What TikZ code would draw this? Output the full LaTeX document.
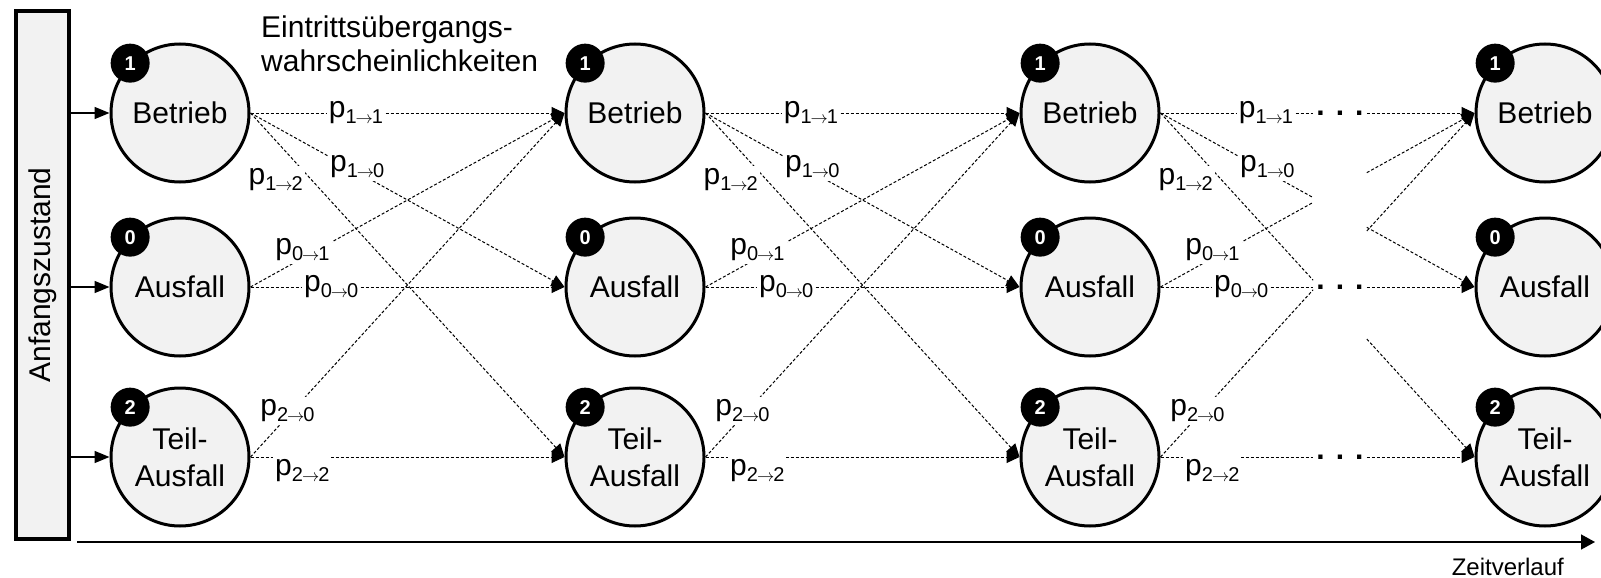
\documentclass[tikz,border=0pt]{standalone}
\usepackage{fontspec}
\setmainfont{Liberation Sans}
\usetikzlibrary{automata,arrows.meta,calc}

\definecolor{zustgrau}{HTML}{F2F2F2}
\newcommand{\pueb}[2]{p\raisebox{-6pt}{\fontsize{20}{20}\selectfont #1\hspace{-1pt}{\fontsize{17}{17}\selectfont$\rightarrow$}\hspace{-1pt}#2}}
% von/nach/Index/Index/pos/xshift/yshift
\newcommand{\uebergaenge}{b/b/1/1/.336/0/0, b/a/1/0/.34/0/5, b/t/1/2/.16/-25/-12, a/b/0/1/.21/-14/0, a/a/0/0/.257/0/0, t/b/2/0/.156/-12/-8, t/t/2/2/.165/0/-14}

\begin{document}
\begin{tikzpicture}[x=1pt, y=-1pt,
    every state/.style={draw, line width=3pt, fill=zustgrau, minimum size=138pt, inner sep=0pt, align=center, font=\fontsize{30}{37}\selectfont},
    badge/.style={circle, fill=black, text=white, minimum size=39pt, inner sep=0pt, font=\fontsize{20}{20}\selectfont\bfseries},
    start/.style={draw, line width=4pt, fill=zustgrau, rotate=90, minimum width=528pt, minimum height=53pt, font=\fontsize{30}{30}\selectfont},
    uebergang/.style={line width=1pt, dash pattern=on 3pt off 2pt},
    pfeil/.style={-{Triangle[length=13pt,width=12pt]}},
    lbl/.style={fill=white, inner sep=2pt, text height=16pt, text depth=8pt, font=\fontsize{30}{30}\selectfont},
    dots/.style={anchor=base, inner sep=0pt, font=\fontsize{30}{30}\selectfont\bfseries}]

    \useasboundingbox (0,0) rectangle (1601,578);

    % Zustaende je Zeitschritt
    \foreach \i/\x in {1/180, 2/635, 3/1090, 4/1545} {
        \node[state] (b\i) at (\x,113) {Betrieb};
        \node[state] (a\i) at (\x,287) {Ausfall};
        \node[state] (t\i) at (\x,457) {Teil-\\Ausfall};
        \node[badge] (nb\i) at (b\i.north west) {1};
        \node[badge] (na\i) at (a\i.north west) {0};
        \node[badge] (nt\i) at (t\i.north west) {2};
    }

    \node[start] (anf) at (42.5,275) {Anfangszustand};
    \foreach \z in {b,a,t}
        \draw[line width=1.5pt, -{Triangle[length=15pt,width=12pt]}] (anf.south |- \z1) -- (\z1);

    \node[anchor=base west, align=left, inner sep=0pt, font=\fontsize{30}{35}\selectfont] (titel) at (261,72) {Eintrittsübergangs-\\wahrscheinlichkeiten};

    % Uebergaenge
    \foreach \i/\j in {1/2, 2/3}
        \foreach \s/\z/\m/\n/\p/\dx/\dy in \uebergaenge
            \draw[uebergang, pfeil] (\s\i.east) -- node[lbl, pos=\p, xshift=\dx pt, yshift=\dy pt] {\pueb{\m}{\n}} (\z\j.west);

    % letzter Schritt mit Luecke
    \foreach \s/\z/\m/\n/\p/\dx/\dy in \uebergaenge {
        \pgfmathsetmacro{\q}{\p/0.486}
        \path (\s3.east) -- (\z4.west) coordinate[pos=.486] (l\s\z) coordinate[pos=.657] (r\s\z);
        \draw[uebergang] (\s3.east) -- node[lbl, pos=\q, xshift=\dx pt, yshift=\dy pt] {\pueb{\m}{\n}} (l\s\z);
        \draw[uebergang, pfeil] (r\s\z) -- (\z4.west);
    }
    \foreach \z in {b,a,t}
        \node[dots, yshift=-2pt] (pkt\z) at ($(l\z\z)!.5!(r\z\z)$) {. . .};

    % Zeitachse
    \coordinate (z0) at (77,542);
    \coordinate (z1) at (1595,542);
    \draw[line width=1.5pt, -{Triangle[length=14pt,width=15pt]}] (z0) -- (z1);
    \node[anchor=base east, inner sep=0pt, font=\fontsize{24}{24}\selectfont] (zeit) at (1564,575) {Zeitverlauf};
\end{tikzpicture}
\end{document}
